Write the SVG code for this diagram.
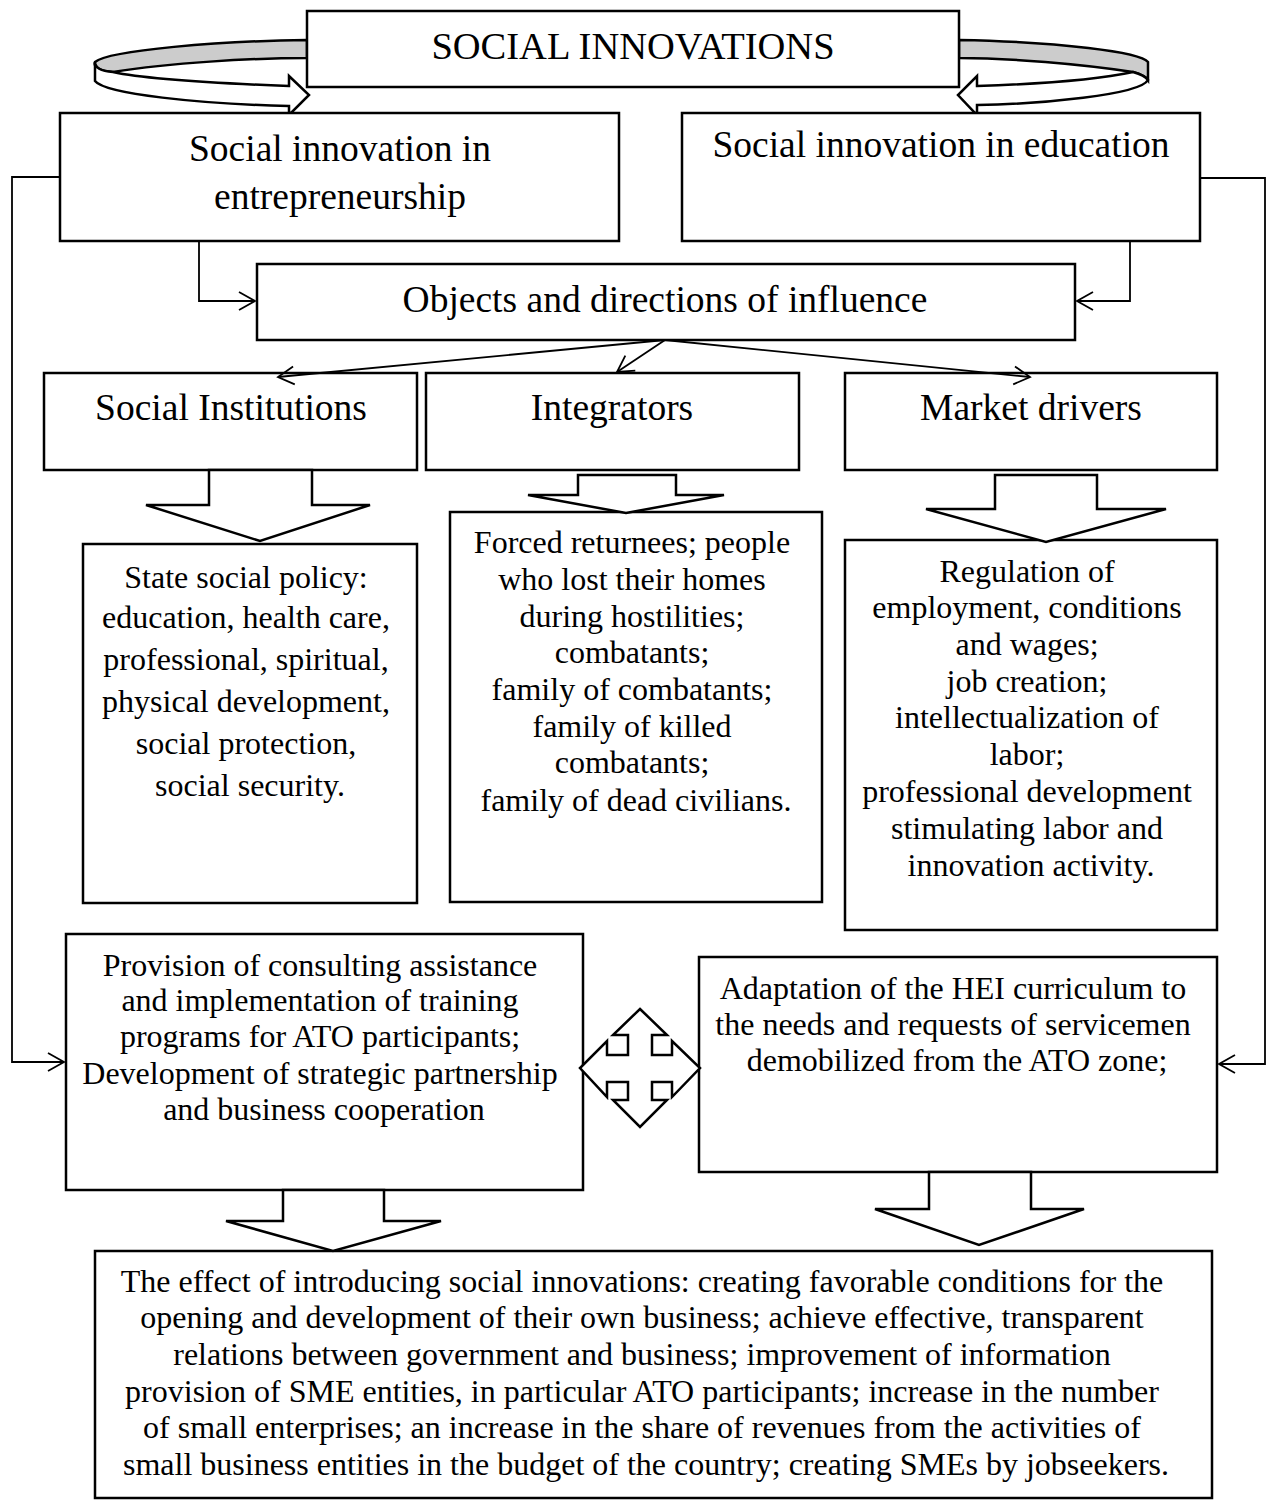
<svg xmlns="http://www.w3.org/2000/svg" width="1268" height="1504" viewBox="0 0 1268 1504">
<style>
.box{fill:#fff;stroke:#000;stroke-width:2.5}
.blk{fill:#fff;stroke:#000;stroke-width:2.5;stroke-linejoin:miter}
.con{fill:none;stroke:#000;stroke-width:1.8}
.t{font-family:"Liberation Serif","Times New Roman",serif;fill:#000;text-anchor:middle}
.h{font-size:37.5px}
.b{font-size:32px}
</style>
<defs>
<marker id="ah" markerUnits="userSpaceOnUse" markerWidth="24" markerHeight="24" refX="18" refY="10" orient="auto" viewBox="0 0 24 20">
<path d="M2,1 L18,10 L2,19" fill="none" stroke="#000" stroke-width="1.8"/>
</marker>
</defs>
<rect width="1268" height="1504" fill="#fff"/>

<g id="loops">
<path d="M307,40 C220,41 110,50 95,62 C93,67 100,71 113,72 C170,63 250,58 307,58 Z" fill="#ccc" stroke="#000" stroke-width="2.5"/>
<path d="M95,62 L95,81 C105,94 200,104 289,106 L289,115 L309,95 L289,76 L289,86 C210,83 140,78 113,72 C100,71 95,67 95,62 Z" fill="#fff" stroke="#000" stroke-width="2.5" stroke-linejoin="miter"/>
<path d="M959,40 C1060,42 1140,52 1148,62 L1148,80 C1146,77 1140,74 1133,72 C1080,64 1010,58 959,58 Z" fill="#ccc" stroke="#000" stroke-width="2.5"/>
<path d="M1133,72 C1140,74 1146,77 1148,80 C1140,95 1040,104 977,105 L977,115 L958,95 L977,76 L977,86 C1040,84 1100,79 1133,72 Z" fill="#fff" stroke="#000" stroke-width="2.5" stroke-linejoin="miter"/>
</g>

<g id="social-innovations">
<rect class="box" x="307" y="11" width="652" height="76"/>
<text class="t h" x="633" y="59" style="font-size:38.5px">SOCIAL INNOVATIONS</text>
</g>

<g id="entrepreneurship">
<rect class="box" x="60" y="113" width="559" height="128"/>
<text class="t h" x="340" y="161">Social innovation in</text>
<text class="t h" x="340" y="209">entrepreneurship</text>
</g>

<g id="education">
<rect class="box" x="682" y="113" width="518" height="128"/>
<text class="t h" x="941" y="157">Social innovation in education</text>
</g>

<g id="objects">
<rect class="box" x="257" y="264" width="818" height="76"/>
<text class="t h" x="665" y="312">Objects and directions of influence</text>
</g>

<g id="social-institutions">
<rect class="box" x="44" y="373" width="373" height="97"/>
<text class="t h" x="231" y="420">Social Institutions</text>
</g>

<g id="integrators">
<rect class="box" x="426" y="373" width="373" height="97"/>
<text class="t h" x="612" y="420">Integrators</text>
</g>

<g id="market-drivers">
<rect class="box" x="845" y="373" width="372" height="97"/>
<text class="t h" x="1031" y="420">Market drivers</text>
</g>

<g id="state-policy">
<rect class="box" x="83" y="544" width="334" height="359"/>
<text class="t b" x="250">
<tspan x="250" y="588">State social policy:</tspan>
<tspan x="250" y="628">education, health care,</tspan>
<tspan x="250" y="670">professional, spiritual,</tspan>
<tspan x="250" y="712">physical development,</tspan>
<tspan x="250" y="754">social protection,</tspan>
<tspan x="250" y="796">social security.</tspan>
</text>
</g>

<g id="forced-returnees">
<rect class="box" x="450" y="512" width="372" height="390"/>
<text class="t b" x="636">
<tspan x="636" y="553">Forced returnees; people</tspan>
<tspan x="636" y="590">who lost their homes</tspan>
<tspan x="636" y="627">during hostilities;</tspan>
<tspan x="636" y="663">combatants;</tspan>
<tspan x="636" y="700">family of combatants;</tspan>
<tspan x="636" y="737">family of killed</tspan>
<tspan x="636" y="773">combatants;</tspan>
<tspan x="636" y="811">family of dead civilians.</tspan>
</text>
</g>

<g id="regulation">
<rect class="box" x="845" y="540" width="372" height="390"/>
<text class="t b" x="1031">
<tspan x="1031" y="582">Regulation of</tspan>
<tspan x="1031" y="618">employment, conditions</tspan>
<tspan x="1031" y="655">and wages;</tspan>
<tspan x="1031" y="692">job creation;</tspan>
<tspan x="1031" y="728">intellectualization of</tspan>
<tspan x="1031" y="765">labor;</tspan>
<tspan x="1031" y="802">professional development</tspan>
<tspan x="1031" y="839">stimulating labor and</tspan>
<tspan x="1031" y="876">innovation activity.</tspan>
</text>
</g>

<g id="provision">
<rect class="box" x="66" y="934" width="517" height="256"/>
<text class="t b" x="324">
<tspan x="324" y="976">Provision of consulting assistance</tspan>
<tspan x="324" y="1011">and implementation of training</tspan>
<tspan x="324" y="1047">programs for ATO participants;</tspan>
<tspan x="324" y="1084">Development of strategic partnership</tspan>
<tspan x="324" y="1120">and business cooperation</tspan>
</text>
</g>

<g id="adaptation">
<rect class="box" x="699" y="957" width="518" height="215"/>
<text class="t b" x="957">
<tspan x="957" y="999">Adaptation of the HEI curriculum to</tspan>
<tspan x="957" y="1035">the needs and requests of servicemen</tspan>
<tspan x="957" y="1071">demobilized from the ATO zone;</tspan>
</text>
</g>

<g id="effect">
<rect class="box" x="95" y="1251" width="1117" height="247"/>
<text class="t b" x="646">
<tspan x="646" y="1292">The effect of introducing social innovations: creating favorable conditions for the</tspan>
<tspan x="646" y="1328">opening and development of their own business; achieve effective, transparent</tspan>
<tspan x="646" y="1365">relations between government and business; improvement of information</tspan>
<tspan x="646" y="1402">provision of SME entities, in particular ATO participants; increase in the number</tspan>
<tspan x="646" y="1438">of small enterprises; an increase in the share of revenues from the activities of</tspan>
<tspan x="646" y="1475">small business entities in the budget of the country; creating SMEs by jobseekers.</tspan>
</text>
</g>

<g id="connectors">
<polyline class="con" points="60,177 12,177 12,1062 64,1062" marker-end="url(#ah)"/>
<polyline class="con" points="1200,178 1265,178 1265,1064 1219,1064" marker-end="url(#ah)"/>
<polyline class="con" points="199,241 199,301 255,301" marker-end="url(#ah)"/>
<polyline class="con" points="1130,241 1130,301 1077,301" marker-end="url(#ah)"/>
<line class="con" x1="665" y1="340" x2="278" y2="377" marker-end="url(#ah)"/>
<line class="con" x1="665" y1="340" x2="617" y2="372" marker-end="url(#ah)"/>
<line class="con" x1="665" y1="340" x2="1030" y2="377" marker-end="url(#ah)"/>
<polygon class="blk" points="209,470 312,470 312,505 370,505 260,541 146,505 209,505"/>
<polygon class="blk" points="578,475 676,475 676,495 724,495 626,513 528,495 578,495"/>
<polygon class="blk" points="995,475 1097,475 1097,509 1166,509 1046,542 926,509 995,509"/>
<polygon class="blk" points="640,1009 667,1035 652,1035 652,1055 672,1055 672,1041 700,1068 672,1097 672,1082 652,1082 652,1100 667,1100 640,1127 613,1100 628,1100 628,1082 607,1082 607,1097 580,1068 607,1041 607,1055 628,1055 628,1035 613,1035"/>
<polygon class="blk" points="283,1190 384,1190 384,1221 441,1221 333,1251 226,1221 283,1221"/>
<polygon class="blk" points="929,1172 1031,1172 1031,1209 1084,1209 979,1245 875,1209 929,1209"/>
</g>
</svg>
